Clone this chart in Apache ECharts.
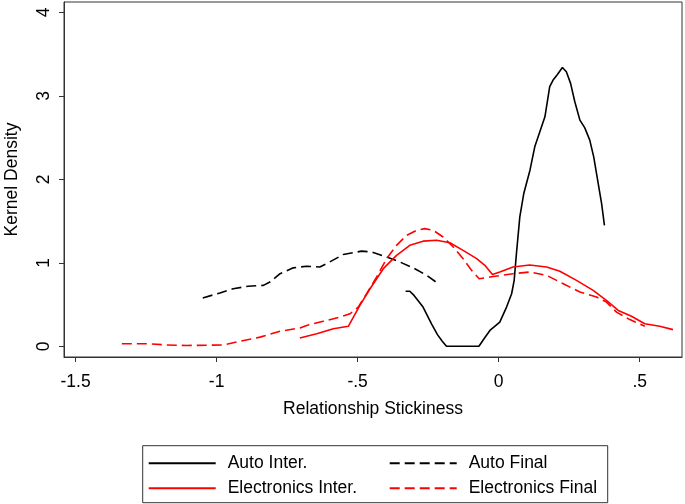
<!DOCTYPE html>
<html><head><meta charset="utf-8">
<script src="https://cdn.jsdelivr.net/npm/echarts@6/dist/echarts.min.js"></script>
<style>html,body{margin:0;padding:0;background:#fff}#c{width:685px;height:504px}</style>
</head><body><div id="c"></div>
<script>
const xTicks = [-1.5, -1, -0.5, 0, 0.5];
const xTickLabels = ['-1.5', '-1', '-.5', '0', '.5'];
const yTicks = [0, 1, 2, 3, 4];
const seriesNames = ['Auto Inter.', 'Auto Final', 'Electronics Inter.', 'Electronics Final'];

const autoInterX = [-0.330, -0.315, -0.30, -0.268, -0.238, -0.217, -0.200, -0.185, -0.070, -0.050, -0.031, 0.004, 0.028, 0.046, 0.055, 0.063, 0.075, 0.089, 0.111, 0.128, 0.152, 0.164, 0.181, 0.193, 0.207, 0.226, 0.24, 0.255, 0.27, 0.288, 0.305, 0.323, 0.337, 0.353, 0.365, 0.375];
const autoInterY = [0.66, 0.66, 0.61, 0.47, 0.27, 0.14, 0.06, 0.0, 0.0, 0.10, 0.19, 0.29, 0.47, 0.63, 0.79, 1.11, 1.55, 1.83, 2.11, 2.39, 2.63, 2.75, 3.11, 3.19, 3.25, 3.34, 3.29, 3.15, 2.93, 2.71, 2.62, 2.47, 2.27, 1.95, 1.71, 1.45];

const autoFinalX = [-1.049, -0.988, -0.941, -0.888, -0.834, -0.811, -0.775, -0.728, -0.681, -0.634, -0.61, -0.551, -0.486, -0.45, -0.397, -0.35, -0.303, -0.255, -0.214];
const autoFinalY = [0.58, 0.64, 0.69, 0.72, 0.73, 0.77, 0.87, 0.94, 0.96, 0.95, 0.99, 1.10, 1.14, 1.13, 1.07, 1.01, 0.94, 0.85, 0.75];

const elecInterX = [-0.705, -0.645, -0.586, -0.533, -0.492, -0.456, -0.409, -0.362, -0.315, -0.268, -0.22, -0.173, -0.126, -0.078, -0.049, -0.022, 0.004, 0.051, 0.11, 0.17, 0.217, 0.276, 0.335, 0.382, 0.424, 0.471, 0.518, 0.571, 0.618];
const elecInterY = [0.10, 0.15, 0.21, 0.24, 0.49, 0.69, 0.93, 1.09, 1.21, 1.26, 1.27, 1.24, 1.15, 1.05, 0.97, 0.86, 0.89, 0.95, 0.975, 0.95, 0.90, 0.79, 0.67, 0.55, 0.43, 0.36, 0.27, 0.24, 0.20];

const elecFinalX = [-1.336, -1.236, -1.177, -1.106, -0.976, -0.917, -0.846, -0.775, -0.704, -0.681, -0.622, -0.563, -0.527, -0.498, -0.468, -0.433, -0.397, -0.362, -0.326, -0.291, -0.262, -0.232, -0.197, -0.161, -0.126, -0.096, -0.069, -0.031, 0.051, 0.11, 0.17, 0.229, 0.288, 0.347, 0.382, 0.418, 0.465, 0.518];
const elecFinalY = [0.03, 0.03, 0.016, 0.01, 0.016, 0.06, 0.11, 0.18, 0.22, 0.25, 0.30, 0.35, 0.39, 0.47, 0.63, 0.83, 1.05, 1.21, 1.33, 1.39, 1.41, 1.39, 1.31, 1.19, 1.05, 0.91, 0.81, 0.83, 0.87, 0.89, 0.85, 0.75, 0.65, 0.59, 0.53, 0.41, 0.32, 0.24];

const zip = (xs, ys) => xs.map((x, i) => [x, ys[i]]);
const FONT = 'Liberation Sans, Arial, sans-serif';
const FS = 17.5;
const frame = '#333';

function mk(name, xs, ys, color, dashed) {
  return {
    name: name, type: 'line', data: zip(xs, ys), symbol: 'none', smooth: false,
    lineStyle: { color: color, width: 1.6, type: dashed ? [10, 5] : 'solid' },
    itemStyle: { color: color }, animation: false
  };
}

const chart = echarts.init(document.getElementById('c'), null, { renderer: 'canvas' });
chart.setOption({
  animation: false,
  backgroundColor: '#fff',
  grid: { left: 64, right: 3, top: 2, bottom: 147, containLabel: false, outerBoundsMode: 'none',
    show: true, borderColor: frame, borderWidth: 1, backgroundColor: 'transparent' },
  xAxis: {
    type: 'value', min: -1.541, max: 0.650,
    name: 'Relationship Stickiness', nameLocation: 'middle', nameGap: 43,
    nameTextStyle: { fontFamily: FONT, fontSize: FS, color: '#000' },
    axisLine: { show: true, onZero: false, lineStyle: { color: frame, width: 1 } },
    axisTick: { show: true, length: 5, lineStyle: { color: frame }, customValues: xTicks },
    axisLabel: { fontFamily: FONT, fontSize: FS, color: '#000', margin: 16, customValues: xTicks,
      formatter: v => { const i = xTicks.findIndex(t => Math.abs(t - v) < 1e-9); return i >= 0 ? xTickLabels[i] : ''; } },
    splitLine: { show: false }
  },
  yAxis: {
    type: 'value', min: -0.128, max: 4.125,
    name: 'Kernel Density', nameLocation: 'middle', nameGap: 43,
    nameTextStyle: { fontFamily: FONT, fontSize: FS, color: '#000' },
    axisLine: { show: true, onZero: false, lineStyle: { color: frame, width: 1 } },
    axisTick: { show: true, length: 5, lineStyle: { color: frame }, customValues: yTicks },
    axisLabel: { fontFamily: FONT, fontSize: FS, color: '#000', margin: 11, rotate: 90, customValues: yTicks,
      formatter: v => String(Math.round(v)) },
    splitLine: { show: false }
  },
  legend: {
    left: 142.7, top: 445.7, orient: 'horizontal', width: 466,
    padding: [5, 5, 2, 5], itemGap: 0, itemWidth: 67, itemHeight: 14,
    borderColor: frame, borderWidth: 1, backgroundColor: '#fff',
    itemStyle: { opacity: 0 },
    textStyle: { fontFamily: FONT, fontSize: FS, color: '#000', lineHeight: 25, padding: [0, 0, 0, 7], width: 161 },
    data: [
      { name: seriesNames[0], textStyle: { width: 161 } },
      { name: seriesNames[1], textStyle: { width: 134 } },
      { name: seriesNames[2], textStyle: { width: 161 } },
      { name: seriesNames[3], textStyle: { width: 134 } }
    ]
  },
  series: [
    mk(seriesNames[0], autoInterX, autoInterY, '#000', false),
    mk(seriesNames[1], autoFinalX, autoFinalY, '#000', true),
    mk(seriesNames[2], elecInterX, elecInterY, '#ff0000', false),
    mk(seriesNames[3], elecFinalX, elecFinalY, '#ff0000', true)
  ]
});
</script></body></html>
